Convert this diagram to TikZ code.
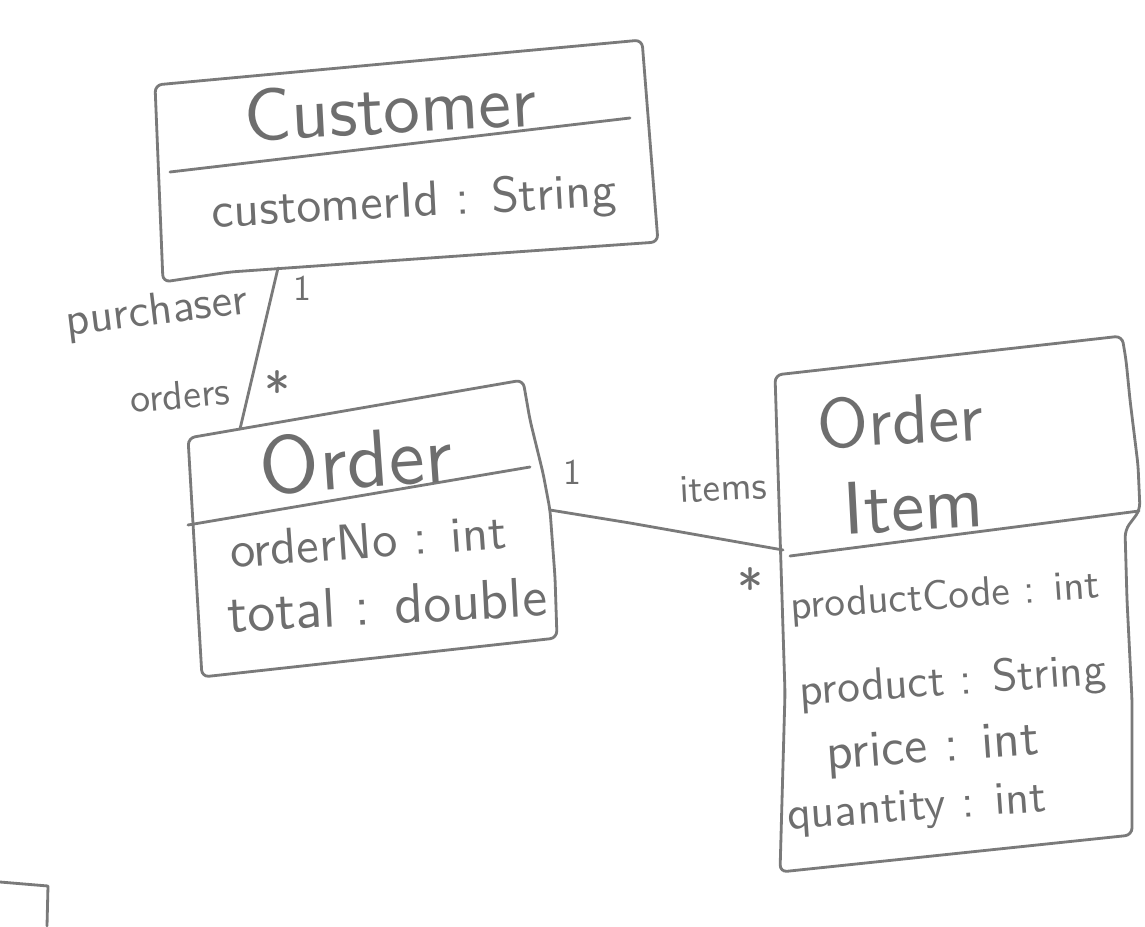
\documentclass[tikz,border=0pt]{standalone}
\usepackage{graphicx}
\newlength\pxlen
\setlength\pxlen{0.02cm}
\newcommand\hwtext[2]{\resizebox{#1\pxlen}{!}{#2}}
\definecolor{linec}{HTML}{7A7A7A}
\definecolor{inkc}{HTML}{6E6E6E}
\tikzset{
  pencil/.style={draw=linec, line width=1.6pt, line join=round, line cap=round},
  hand/.style={text=inkc, inner sep=0pt, font=\sffamily},
}
\begin{document}
\begin{tikzpicture}[x=0.02cm,y=-0.02cm]
\useasboundingbox[fill=white] (0,0) rectangle (1145,926);

% ---- Customer class ----
\coordinate (cTL) at (155,85);
\coordinate (cTR) at (642,40);
\coordinate (cBR) at (658,242);
\coordinate (cBM) at (230,272);
\coordinate (cBL) at (163,282);
\draw[pencil, rounded corners=4] (cTL) -- (cTR) -- (cBR) -- (cBM) -- (cBL) -- cycle;
\coordinate (cD1) at (170,172);
\coordinate (cD2) at (630,118);
\draw[pencil] (cD1) -- (cD2);
\node[hand, rotate=3] (custTitle) at (390,108) {\hwtext{293}{Customer}};
\node[hand, rotate=3] (custAttr) at (414,204) {\hwtext{405}{customerId : String}};

% ---- Order class ----
\coordinate (oTL) at (188,438);
\coordinate (oTR) at (523,380);
\coordinate (oRM) at (550,510);
\coordinate (oBR) at (557,638);
\coordinate (oBL) at (202,677);
\draw[pencil, rounded corners=4] (oTL) -- (oTR) -- (530,420) -- (543,473) -- (oRM) -- (555,577) -- (oBR) -- (oBL) -- cycle;
\coordinate (oD1) at (188,525);
\coordinate (oD2) at (530,467);
\draw[pencil] (oD1) -- (oD2);
\node[hand, rotate=4] (orderTitle) at (356,460) {\hwtext{193}{Order}};
\node[hand, rotate=4] (orderNo) at (368,541) {\hwtext{277}{orderNo : int}};
\node[hand, rotate=3] (orderTotal) at (387,605) {\hwtext{320}{total : double}};

% ---- OrderItem class ----
\coordinate (iTL) at (775,375);
\coordinate (iTR) at (1122,336);
\coordinate (iRK) at (1140,510);
\coordinate (iBR) at (1132,835);
\coordinate (iBL) at (780,872);
\coordinate (iLM) at (785,693);
\draw[pencil, rounded corners=4] (iTL) -- (iTR) -- (1126,360) -- (1130,400) -- (1138,465) -- (iRK) -- (1125,530) -- (1127,600) -- (1132,700) -- (iBR) -- (iBL) -- (iLM) -- cycle;
\coordinate (iD1) at (790,556);
\coordinate (iD2) at (1139,511);
\draw[pencil] (iD1) -- (iD2);
\node[hand, rotate=3] (itemTitleA) at (900,420) {\hwtext{166}{Order}};
\node[hand, rotate=3] (itemTitleB) at (913,505) {\hwtext{140}{Item}};
\node[hand, rotate=4] (itemCode) at (945,598) {\hwtext{310}{productCode : int}};
\node[hand, rotate=4] (itemProd) at (953,683) {\hwtext{307}{product : String}};
\node[hand, rotate=4] (itemPrice) at (933,750) {\hwtext{213}{price : int}};
\node[hand, rotate=4] (itemQty) at (917,810) {\hwtext{260}{quantity : int}};

% ---- association Customer -- Order ----
\coordinate (a1s) at (278,268);
\coordinate (a1e) at (240,429);
\draw[pencil] (a1s) -- (a1e);
\node[hand, rotate=7] (purch) at (157,313) {\hwtext{183}{purchaser}};
\node[hand] (m1) at (302,288) {\hwtext{18}{1}};
\node[hand, rotate=5] (ords) at (180,395) {\hwtext{100}{orders}};
\node[hand] (m2) at (277,390) {\hwtext{26}{*}};

% ---- association Order -- OrderItem ----
\coordinate (a2b) at (630,523);
\coordinate (a2e) at (783,550);
\draw[pencil] (oRM) -- (a2b) -- (a2e);
\node[hand] (m3) at (572,472) {\hwtext{18}{1}};
\node[hand, rotate=3] (itms) at (723,488) {\hwtext{87}{items}};
\node[hand] (m4) at (750,587) {\hwtext{26}{*}};

% ---- fragment of a further box, bottom left ----
\coordinate (fA) at (0,882);
\coordinate (fB) at (48,886);
\coordinate (fC) at (47,926);
\draw[pencil] (fA) -- (fB) -- (fC);
\end{tikzpicture}
\end{document}
